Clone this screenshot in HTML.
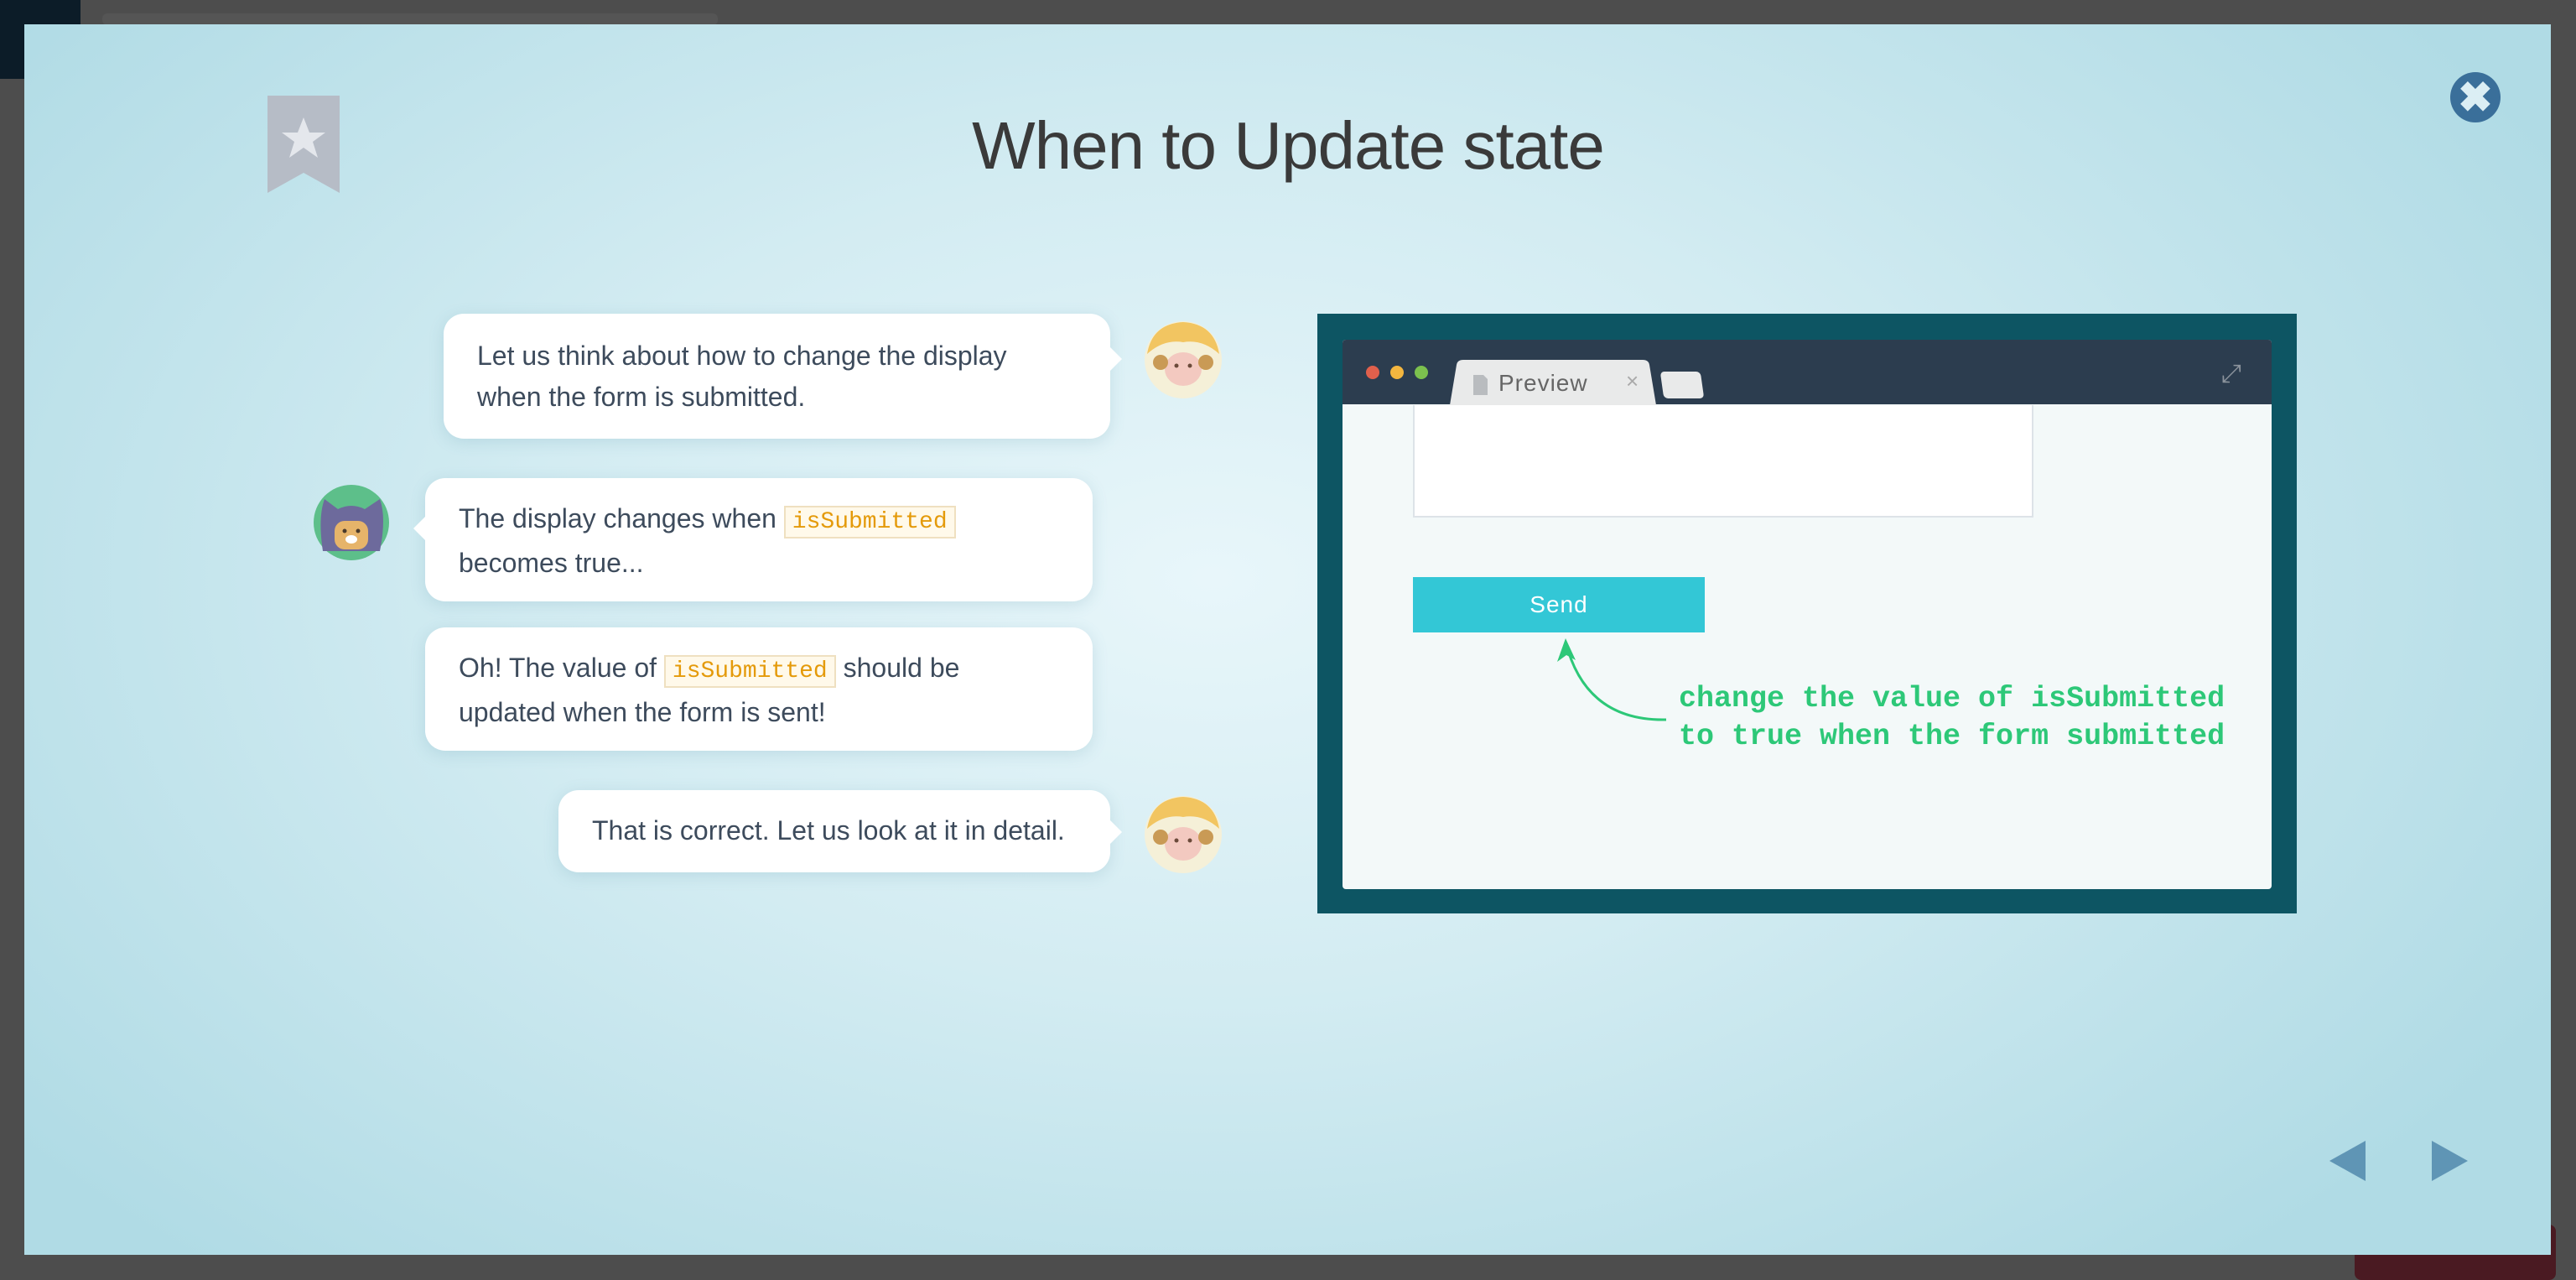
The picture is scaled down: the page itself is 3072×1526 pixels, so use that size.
<!DOCTYPE html>
<html><head><meta charset="utf-8"><style>
*{margin:0;padding:0;box-sizing:border-box}
body{width:3072px;height:1526px;background:#4d4d4d;position:relative;overflow:hidden;font-family:"Liberation Sans",sans-serif}
.abs{position:absolute}
#modal{left:29px;top:29px;width:3013px;height:1467px;background:radial-gradient(ellipse 60% 75% at 47% 45%,#e8f6fa 0%,#d3ecf2 45%,#b0dbe5 100%)}
.bub{position:absolute;background:#fff;border-radius:24px;box-shadow:0 4px 18px rgba(80,140,160,.18);font-size:32px;color:#3d4b5c;line-height:49px;font-family:"Liberation Sans",sans-serif}
.bub .tl{position:absolute;width:0;height:0;border-top:14px solid transparent;border-bottom:14px solid transparent}
code{font-family:"Liberation Mono",monospace;color:#e49a0a;background:#fff9ea;border:2px solid #efe0c0;padding:2px 8px;font-size:28px}
</style></head><body>
<div class="abs" style="left:0;top:0;width:96px;height:94px;background:#0c1c28"></div>
<div class="abs" style="left:122px;top:16px;width:734px;height:14px;background:#555;border-radius:6px"></div>
<div class="abs" style="left:2808px;top:1460px;width:240px;height:66px;background:#4a1a22;border-radius:8px"></div>
<div class="abs" id="modal"></div>
<svg class="abs" style="left:319px;top:114px" width="86" height="116"><polygon points="0,0 86,0 86,116 43,92 0,116" fill="#b6bcc6"/><polygon points="43,26 50,44 69,44 54,55 60,74 43,62 26,74 32,55 17,44 36,44" fill="#e4e7ec"/></svg>
<div class="abs" style="left:0;width:3072px;top:128px;text-align:center;font-size:80px;color:#3a3a3a;letter-spacing:-1px">When to Update state</div>
<div class="abs" style="left:2922px;top:86px;width:60px;height:60px;border-radius:50%;background:#3a6f9a;color:#dbeef4;font-size:50px;line-height:60px;text-align:center;font-weight:bold">✖</div>
<div class="bub" style="left:529px;top:374px;width:795px;height:149px;padding:26px 40px">Let us think about how to change the display<br>when the form is submitted.<div class="tl" style="right:-14px;top:40px;border-left:14px solid #fff"></div></div>
<div class="bub" style="left:507px;top:570px;width:796px;height:147px;padding:24px 40px">The display changes when <code>isSubmitted</code><br>becomes true...<div class="tl" style="left:-14px;top:46px;border-right:14px solid #fff"></div></div>
<div class="bub" style="left:507px;top:748px;width:796px;height:147px;padding:24px 40px">Oh! The value of <code>isSubmitted</code> should be<br>updated when the form is sent!</div>
<div class="bub" style="left:666px;top:942px;width:658px;height:98px;padding:24px 40px">That is correct. Let us look at it in detail.<div class="tl" style="right:-14px;top:36px;border-left:14px solid #fff"></div></div>
<svg class="abs" style="left:1364px;top:382px" width="94" height="94"><circle cx="47" cy="47" r="46" fill="#f5f0d8"/><path d="M4,40 Q10,4 47,2 Q84,4 90,40 Q70,22 47,26 Q24,22 4,40Z" fill="#f2c561"/><ellipse cx="47" cy="58" rx="22" ry="20" fill="#f3c9c0"/><circle cx="39" cy="54" r="2.5" fill="#6b4a3a"/><circle cx="55" cy="54" r="2.5" fill="#6b4a3a"/><circle cx="20" cy="50" r="9" fill="#c99a55"/><circle cx="74" cy="50" r="9" fill="#c99a55"/></svg>
<svg class="abs" style="left:1364px;top:948px" width="94" height="94"><circle cx="47" cy="47" r="46" fill="#f5f0d8"/><path d="M4,40 Q10,4 47,2 Q84,4 90,40 Q70,22 47,26 Q24,22 4,40Z" fill="#f2c561"/><ellipse cx="47" cy="58" rx="22" ry="20" fill="#f3c9c0"/><circle cx="39" cy="54" r="2.5" fill="#6b4a3a"/><circle cx="55" cy="54" r="2.5" fill="#6b4a3a"/><circle cx="20" cy="50" r="9" fill="#c99a55"/><circle cx="74" cy="50" r="9" fill="#c99a55"/></svg>
<svg class="abs" style="left:373px;top:577px" width="92" height="92"><circle cx="46" cy="46" r="45" fill="#5dbf8a"/><path d="M12,80 Q6,40 14,18 L30,30 Q46,22 62,30 L80,18 Q88,40 80,80Z" fill="#6d6a9c"/><rect x="26" y="44" width="40" height="34" rx="12" fill="#e6b46a"/><circle cx="38" cy="56" r="2.5" fill="#4a3a2a"/><circle cx="54" cy="56" r="2.5" fill="#4a3a2a"/><ellipse cx="46" cy="66" rx="7" ry="5" fill="#fff"/></svg>
<div class="abs" style="left:1571px;top:374px;width:1168px;height:715px;background:#0d5563"></div>
<div class="abs" style="left:1601px;top:405px;width:1108px;height:655px;background:#f3f9f9;border-radius:4px;overflow:hidden">
 <div class="abs" style="left:0;top:0;width:1108px;height:77px;background:#2c3d4f"></div>
 <div class="abs" style="left:28px;top:31px;width:16px;height:16px;border-radius:50%;background:#e0604c"></div>
 <div class="abs" style="left:57px;top:31px;width:16px;height:16px;border-radius:50%;background:#f3b63f"></div>
 <div class="abs" style="left:86px;top:31px;width:16px;height:16px;border-radius:50%;background:#7cc14e"></div>
 <svg class="abs" style="left:128px;top:24px" width="250" height="54"><path d="M0,54 L8,6 Q9,0 16,0 L230,0 Q237,0 238,6 L246,54Z" fill="#e9eaea"/><path d="M28,18 L40,18 L45,23 L45,42 L28,42Z" fill="#b9bcbf"/></svg>
 <div class="abs" style="left:186px;top:36px;font-size:28px;color:#666;letter-spacing:1px">Preview</div>
 <div class="abs" style="left:338px;top:34px;font-size:26px;color:#aaa">×</div>
 <div class="abs" style="left:381px;top:38px;width:48px;height:32px;background:#e9eaea;border-radius:5px;transform:skewX(8deg)"></div>
 <div class="abs" style="left:1048px;top:24px;font-size:30px;color:#8b939c">⤢</div>
 <div class="abs" style="left:84px;top:78px;width:740px;height:134px;background:#fff;border:2px solid #dde3e8;border-top:none"></div>
 <div class="abs" style="left:84px;top:283px;width:348px;height:66px;background:#33c7d6;color:#fff;font-size:28px;text-align:center;line-height:66px;letter-spacing:1px">Send</div>
 <svg class="abs" style="left:0;top:0" width="1108" height="655"><path d="M386,453 Q290,455 266,360" fill="none" stroke="#2dc878" stroke-width="3"/><polygon points="266,356 256,384 267,376 278,382" fill="#2dc878"/></svg>
 <div class="abs" style="left:401px;top:406px;font-family:'Liberation Mono',monospace;font-weight:bold;font-size:35px;color:#2dc878;line-height:45px;white-space:pre">change the value of isSubmitted
to true when the form submitted</div>
</div>
<svg class="abs" style="left:2778px;top:1360px" width="170" height="50"><polygon points="0,24 43,0 43,48" fill="#5f95b5"/><polygon points="122,0 165,24 122,48" fill="#5f95b5"/></svg>
</body></html>
